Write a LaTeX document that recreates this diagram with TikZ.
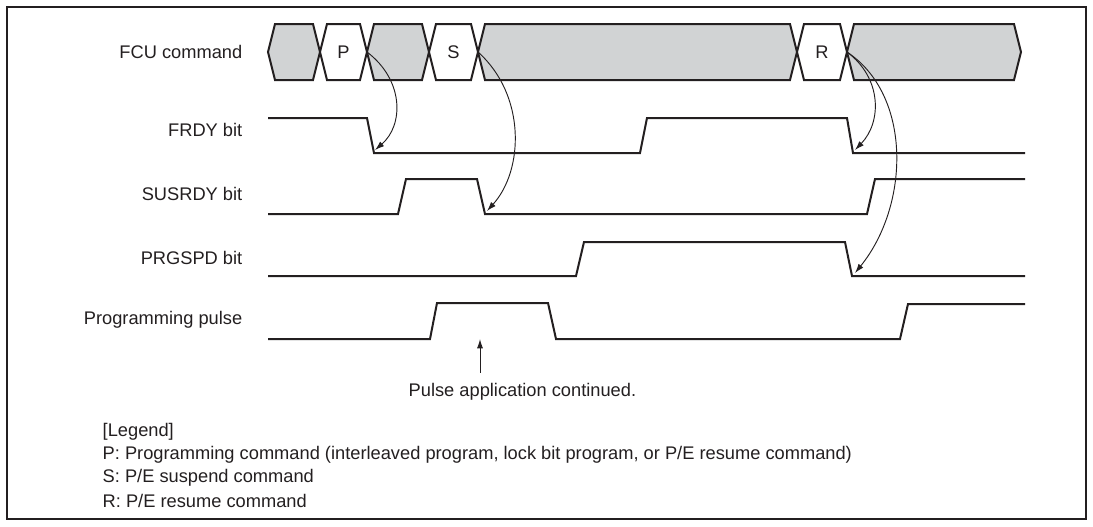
\documentclass[tikz,border=0pt]{standalone}
\usepackage{fontspec}
\setmainfont{Liberation Sans}
\usepackage{xcolor}
\usepackage{tikz}
\usetikzlibrary{arrows.meta}
\definecolor{TimingInk}{HTML}{231F20}
\definecolor{TimingGray}{HTML}{D1D3D4}

\begin{document}
\begin{tikzpicture}[x=0.75pt,y=-0.75pt,>={Latex[length=7pt,width=4.5pt]},
    font=\fontsize{13.7}{16}\selectfont,
    sig/.style={TimingInk,line width=1.5pt,line join=miter},
    cause/.style={->,TimingInk,line width=0.7pt}]
  \useasboundingbox (0,0) rectangle (1093,526);
  \draw[TimingInk,line width=1.5pt] (7,7) rectangle (1086,519);

  % Signal names.
  \node[anchor=east,TimingInk] (fcu) at (247,52) {FCU command};
  \node[anchor=east,TimingInk] (frdy) at (247,130) {FRDY bit};
  \node[anchor=east,TimingInk] (susrdy) at (247,194) {SUSRDY bit};
  \node[anchor=east,TimingInk] (prgspd) at (247,258) {PRGSPD bit};
  \node[anchor=east,TimingInk] (pulse) at (247,320) {Programming pulse};

  % Command bus.
  \foreach \xa/\xb/\cc in {268/320/TimingGray,320/367/white,367/429/TimingGray,
      429/478/white,478/797/TimingGray,797/847/white,847/1021/TimingGray}
    \draw[sig,fill=\cc] (\xa,52) -- (\xa+7,24) -- (\xb-7,24) -- (\xb,52)
      -- (\xb-7,80) -- (\xa+7,80) -- cycle;
  \node[TimingInk] (cmdP) at (343.5,52) {P};
  \node[TimingInk] (cmdS) at (453.5,52) {S};
  \node[TimingInk] (cmdR) at (822,52) {R};

  % Waveforms.
  \draw[sig] (268,118) -- (367,118) -- (374,153) -- (640,153) -- (647,118)
    -- (847,118) -- (853,153) -- (1025,153);
  \draw[sig] (268,214) -- (398,214) -- (406,179) -- (477,179) -- (485,214)
    -- (867,214) -- (875,179) -- (1025,179);
  \draw[sig] (268,276) -- (576,276) -- (584,242) -- (845,242) -- (852,276)
    -- (1025,276);
  \draw[sig] (268,339) -- (430,339) -- (437,303) -- (548,303) -- (556,339)
    -- (900,339) -- (908,304) -- (1025,304);

  % Cause and effect.
  \coordinate (xP) at (367,52);
  \coordinate (xS) at (478,52);
  \coordinate (xR) at (847,52);
  \coordinate (frdyLow) at (375,150);
  \coordinate (susLow) at (487,211);
  \coordinate (frdyLowR) at (855,150);
  \coordinate (prgLow) at (855,273);
  \draw[cause] (xP) .. controls (404,80) and (404,125) .. (frdyLow);
  \draw[cause] (xS) .. controls (526,95) and (524,170) .. (susLow);
  \draw[cause] (xR) .. controls (882,78) and (882,122) .. (frdyLowR);
  \draw[cause] (xR) .. controls (912,95) and (910,205) .. (prgLow);

  % Note under the pulse.
  \node[TimingInk,anchor=west] (note) at (404,392) {Pulse application continued.};
  \coordinate (noteTip) at (480,339);
  \draw[cause] (note.north -| noteTip) ++(0,-6) -- (noteTip);

  % Legend.
  \node[anchor=west,TimingInk] (leg) at (98,432) {[Legend]};
  \node[anchor=west,TimingInk] (legP) at (98,455)
    {P: Programming command (interleaved program, lock bit program, or P/E resume command)};
  \node[anchor=west,TimingInk] (legS) at (98,478) {S: P/E suspend command};
  \node[anchor=west,TimingInk] (legR) at (98,501) {R: P/E resume command};
\end{tikzpicture}
\end{document}
